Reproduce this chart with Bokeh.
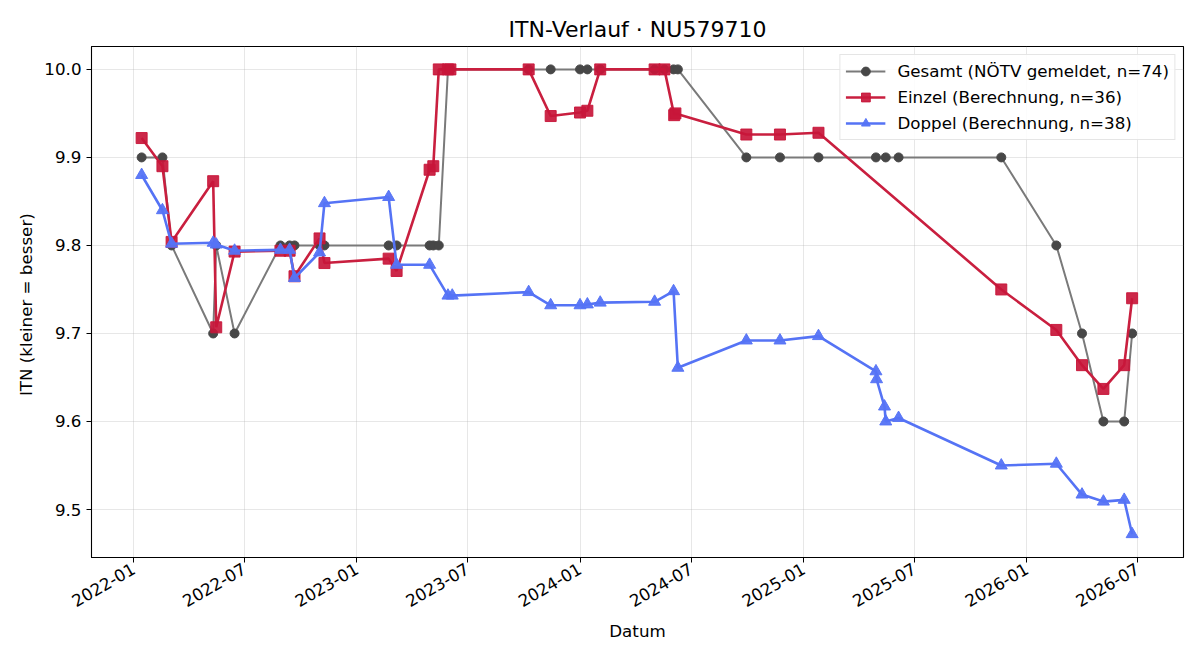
import math
import pandas as pd
from bokeh.plotting import figure
from bokeh.models import Range1d, MonthsTicker, DatetimeTickFormatter, FixedTicker, NumeralTickFormatter, Legend, LegendItem
from bokeh.embed import file_html
from bokeh.resources import INLINE

# ---------------- data ----------------
gesamt_dates = ["2022-01-14", "2022-02-17", "2022-03-04", "2022-05-11", "2022-05-16", "2022-06-15",
                "2022-08-29", "2022-09-13", "2022-09-21", "2022-11-01", "2022-11-09", "2023-02-22",
                "2023-03-07", "2023-04-30", "2023-05-06", "2023-05-15", "2023-05-30", "2023-06-03",
                "2023-10-09", "2023-11-14", "2024-01-01", "2024-01-13", "2024-02-03", "2024-05-02",
                "2024-05-18", "2024-06-02", "2024-06-09", "2024-09-29", "2024-11-23", "2025-01-25",
                "2025-04-29", "2025-05-15", "2025-06-05", "2025-11-20", "2026-02-18", "2026-04-01",
                "2026-05-06", "2026-06-09", "2026-06-22"]
gesamt_itn = [9.9, 9.9, 9.8, 9.7, 9.8, 9.7,
              9.8, 9.8, 9.8, 9.8, 9.8, 9.8,
              9.8, 9.8, 9.8, 9.8, 10.0, 10.0,
              10.0, 10.0, 10.0, 10.0, 10.0, 10.0,
              10.0, 10.0, 10.0, 9.9, 9.9, 9.9,
              9.9, 9.9, 9.9, 9.9, 9.8, 9.7,
              9.6, 9.6, 9.7]

einzel_dates = ["2022-01-14", "2022-02-17", "2022-03-04", "2022-05-11", "2022-05-16", "2022-06-15",
                "2022-08-29", "2022-09-13", "2022-09-21", "2022-11-01", "2022-11-09", "2023-02-22",
                "2023-03-07", "2023-04-30", "2023-05-06", "2023-05-15", "2023-05-30", "2023-06-03",
                "2023-10-09", "2023-11-14", "2024-01-01", "2024-01-13", "2024-02-03", "2024-05-02",
                "2024-05-18", "2024-06-03", "2024-06-05", "2024-09-29", "2024-11-23", "2025-01-25",
                "2025-11-20", "2026-02-18", "2026-04-01", "2026-05-06", "2026-06-09", "2026-06-22"]
einzel_itn = [9.922, 9.890, 9.804, 9.873, 9.707, 9.793,
              9.794, 9.794, 9.765, 9.808, 9.780, 9.785,
              9.771, 9.886, 9.890, 10.0, 10.0, 10.0,
              10.0, 9.947, 9.951, 9.953, 10.0, 10.0,
              10.0, 9.948, 9.950, 9.926, 9.926, 9.928,
              9.750, 9.704, 9.664, 9.637, 9.664, 9.740]

doppel_dates = ["2022-01-14", "2022-02-17", "2022-03-04", "2022-05-11", "2022-05-16", "2022-06-15",
                "2022-08-29", "2022-09-13", "2022-09-21", "2022-11-01", "2022-11-09", "2023-02-22",
                "2023-03-07", "2023-04-30", "2023-05-30", "2023-06-06", "2023-10-09", "2023-11-14",
                "2024-01-01", "2024-01-13", "2024-02-03", "2024-05-02", "2024-06-02", "2024-06-09",
                "2024-09-29", "2024-11-23", "2025-01-25", "2025-04-29", "2025-04-30", "2025-05-13",
                "2025-05-15", "2025-06-05", "2025-11-20", "2026-02-18", "2026-04-01", "2026-05-06",
                "2026-06-09", "2026-06-22"]
doppel_itn = [9.880, 9.840, 9.802, 9.803, 9.801, 9.794,
              9.795, 9.795, 9.763, 9.792, 9.848, 9.855,
              9.778, 9.778, 9.743, 9.743, 9.747, 9.732,
              9.732, 9.733, 9.735, 9.736, 9.748, 9.661,
              9.692, 9.692, 9.697, 9.657, 9.648, 9.617,
              9.600, 9.604, 9.550, 9.552, 9.517, 9.509,
              9.511, 9.472]

labels = ["Gesamt (NÖTV gemeldet, n=74)", "Einzel (Berechnung, n=36)", "Doppel (Berechnung, n=38)"]
y_ticks = [9.5, 9.6, 9.7, 9.8, 9.9, 10.0]

FONT = "DejaVu Sans"

p = figure(width=1200, height=660, output_backend="svg", toolbar_location=None,
           x_axis_type="datetime",
           x_range=Range1d(pd.Timestamp("2021-10-24"), pd.Timestamp("2026-09-14")),
           y_range=Range1d(9.4455, 10.026),
           min_border_left=91, min_border_right=17, min_border_top=46, min_border_bottom=103)

p.title.text = "ITN-Verlauf · NU579710"
p.title.align = "center"
p.title.text_font = FONT
p.title.text_font_size = "22px"
p.title.text_font_style = "normal"
p.title.text_color = "black"
p.title.offset = 2

p.outline_line_color = "black"
p.outline_line_width = 1.1
p.outline_line_alpha = 1

for ax in (p.xaxis[0], p.yaxis[0]):
    ax.major_label_text_font = FONT
    ax.major_label_text_font_size = "16.7px"
    ax.major_label_text_color = "black"
    ax.axis_label_text_font = FONT
    ax.axis_label_text_font_size = "16.7px"
    ax.axis_label_text_font_style = "normal"
    ax.axis_label_text_color = "black"
    ax.minor_tick_line_color = None
    ax.major_tick_in = 0
    ax.major_tick_out = 5
    ax.axis_line_color = "black"
    ax.major_tick_line_color = "black"

p.xaxis.ticker = MonthsTicker(months=[0, 6])
p.xaxis.formatter = DatetimeTickFormatter(months="%Y-%m", years="%Y-%m", days="%Y-%m")
p.xaxis.major_label_orientation = math.pi / 6
p.xaxis.axis_label = "Datum"

p.yaxis.ticker = FixedTicker(ticks=y_ticks)
p.yaxis.formatter = NumeralTickFormatter(format="0.0")
p.yaxis.axis_label = "ITN  (kleiner = besser)"

p.grid.grid_line_color = "#b0b0b0"
p.grid.grid_line_alpha = 0.3

gx = pd.to_datetime(gesamt_dates)
ex = pd.to_datetime(einzel_dates)
dx = pd.to_datetime(doppel_dates)

g_line = p.line(gx, gesamt_itn, line_color="#7a7a7a", line_width=2)
g_pts = p.scatter(gx, gesamt_itn, marker="circle", size=9, fill_color="#474747", line_color="#474747")

e_line = p.line(ex, einzel_itn, line_color="#c91f3f", line_width=2.6)
e_pts = p.scatter(ex, einzel_itn, marker="square", size=11, fill_color="#c8163a", line_color="#c8163a", alpha=0.92)

d_line = p.line(dx, doppel_itn, line_color="#5573f5", line_width=2.6)
d_pts = p.scatter(dx, doppel_itn, marker="triangle", size=12, fill_color="#5573f5", line_color="#5573f5", alpha=0.95)

legend = Legend(items=[LegendItem(label=labels[0], renderers=[g_line, g_pts]),
                       LegendItem(label=labels[1], renderers=[e_line, e_pts]),
                       LegendItem(label=labels[2], renderers=[d_line, d_pts])],
                location="top_right")
legend.label_text_font = FONT
legend.label_text_font_size = "16.7px"
legend.label_text_color = "black"
legend.border_line_color = "#cccccc"
legend.border_line_width = 1
legend.background_fill_alpha = 0.85
legend.margin = 8
legend.padding = 5
legend.spacing = 4
legend.glyph_width = 40
legend.glyph_height = 22
legend.label_standoff = 12
p.add_layout(legend)

open("out.html", "w").write(file_html(p, INLINE))
